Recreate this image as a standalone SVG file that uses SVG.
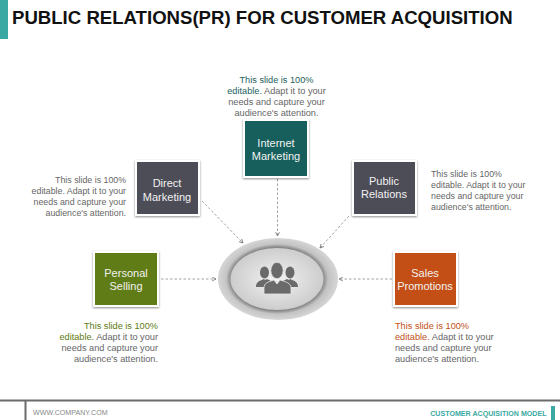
<svg xmlns="http://www.w3.org/2000/svg" width="560" height="420" viewBox="0 0 560 420">
<style>
text{font-family:"Liberation Sans",Arial,sans-serif}
.t{font-size:18.6px;font-weight:700;fill:#111}
.b{font-size:9.2px;fill:#666}
.s{font-size:8.8px}
.n{font-size:11px;fill:#f2f2f2;text-anchor:middle}
.box{stroke:#fff;stroke-width:2;filter:url(#sh)}
.c{fill:none;stroke:#8a8a8a;stroke-width:.8;stroke-dasharray:2.5 2;marker-end:url(#ah)}
.e{text-anchor:end}
.m{text-anchor:middle}
.ic{fill:#6a6a6a}
.front{stroke:#e4e4e4;stroke-width:.8}
</style>
<defs>
<filter id="sh" x="-20%" y="-20%" width="140%" height="140%"><feDropShadow dx="0" dy="1" stdDeviation="1.2" flood-color="#000" flood-opacity=".45"/></filter>
<filter id="soft" x="-10%" y="-10%" width="120%" height="120%"><feGaussianBlur stdDeviation=".6"/></filter>
<marker id="ah" viewBox="0 0 8 8" refX="7" refY="4" markerWidth="5" markerHeight="5" markerUnits="userSpaceOnUse" orient="auto"><path d="M1 1L7 4L1 7" fill="none" stroke="#777" stroke-width="1.4"/></marker>
<radialGradient id="ring"><stop offset=".8" stop-color="#bdbdbd"/><stop offset="1" stop-color="#d6d6d6"/></radialGradient>
<radialGradient id="halo"><stop offset=".84" stop-color="#666"/><stop offset="1" stop-color="#666" stop-opacity="0"/></radialGradient>
<radialGradient id="core"><stop offset="0" stop-color="#f2f2f2"/><stop offset="1" stop-color="#cdcdcd"/></radialGradient>
</defs>
<rect width="8" height="39" fill="#3aa9a3"/>
<text class="t" x="12" y="23.500">PUBLIC RELATIONS(PR) FOR CUSTOMER ACQUISITION</text>
<g id="connectors">
<path class="c" d="M277.500 179V236"/>
<path class="c" d="M202 201L243 243"/>
<path class="c" d="M349 216L320 248"/>
<path class="c" d="M161 279H216"/>
<path class="c" d="M392 279H339"/>
</g>
<g id="hub">
<ellipse cx="278" cy="279" rx="60" ry="41" fill="url(#ring)"/>
<ellipse cx="277" cy="279" rx="51" ry="35" fill="url(#halo)"/>
<ellipse cx="277" cy="279" rx="46.500" ry="31" fill="url(#core)" filter="url(#soft)"/>
<g class="ic">
<ellipse cx="264.500" cy="272.500" rx="4.500" ry="6"/>
<ellipse cx="290" cy="272.500" rx="4.500" ry="6"/>
<path d="M256 287c0-5 3-6 8-8l1 1 2-1 4 2v6h-15zM298 287c0-5-3-6-8-8l-1 1-2-1-4 2v6h15z"/>
<ellipse class="front" cx="277" cy="270.500" rx="6.200" ry="8.200"/>
<path class="front" d="M264 294v-6c0-5 4-6 10-8l3 4 3-4c6 2 11 3 11 8v6z"/>
</g>
</g>
<g id="internet-marketing">
<rect class="box" x="244" y="120" width="64" height="57" fill="#125f5b"/>
<text class="n" x="276" y="147">Internet</text><text class="n" x="276" y="160">Marketing</text>
<g class="b m"><text x="276.500" y="83" style="fill:#1d615c">This slide is 100%</text><text x="276.500" y="94"><tspan style="fill:#1d615c">editable.</tspan> Adapt it to your</text><text x="276.500" y="105">needs and capture your</text><text x="276.500" y="116">audience's attention.</text></g>
</g>
<g id="direct-marketing">
<rect class="box" x="136" y="161" width="63" height="54" fill="#4e4e58"/>
<text class="n" x="167" y="187">Direct</text><text class="n" x="167" y="201">Marketing</text>
<g class="b s e"><text x="126" y="183">This slide is 100%</text><text x="126" y="194">editable. Adapt it to your</text><text x="126" y="205">needs and capture your</text><text x="126" y="216">audience's attention.</text></g>
</g>
<g id="public-relations">
<rect class="box" x="353" y="161" width="63" height="54" fill="#4e4e58"/>
<text class="n" x="384" y="185">Public</text><text class="n" x="384" y="198">Relations</text>
<g class="b s"><text x="431" y="177">This slide is 100%</text><text x="431" y="188">editable. Adapt it to your</text><text x="431" y="199">needs and capture your</text><text x="431" y="210">audience's attention.</text></g>
</g>
<g id="personal-selling">
<rect class="box" x="94" y="252" width="64" height="54" fill="#607b12"/>
<text class="n" x="126" y="277">Personal</text><text class="n" x="126" y="290">Selling</text>
<g class="b e"><text x="158" y="329" style="fill:#607b12">This slide is 100%</text><text x="158" y="340"><tspan style="fill:#607b12">editable.</tspan> Adapt it to your</text><text x="158" y="351">needs and capture your</text><text x="158" y="362">audience's attention.</text></g>
</g>
<g id="sales-promotions">
<rect class="box" x="394" y="252" width="63" height="54" fill="#c44f16"/>
<text class="n" x="425" y="277">Sales</text><text class="n" x="425" y="290">Promotions</text>
<g class="b"><text x="395" y="329" style="fill:#c44f16">This slide is 100%</text><text x="395" y="340"><tspan style="fill:#c44f16">editable.</tspan> Adapt it to your</text><text x="395" y="351">needs and capture your</text><text x="395" y="362">audience's attention.</text></g>
</g>
<path d="M0 400.500H560M25.500 401V420" fill="none" stroke="#6b6b6b" stroke-width="2"/>
<text x="33" y="415" style="font-size:7.100px;fill:#888">WWW.COMPANY.COM</text>
<text x="546.500" y="416" text-anchor="end" style="font-size:7.100px;font-weight:700;fill:#3aa9a3">CUSTOMER ACQUISITION MODEL</text>
<rect x="551" y="406" width="4" height="14" fill="#3aa9a3"/>
</svg>
